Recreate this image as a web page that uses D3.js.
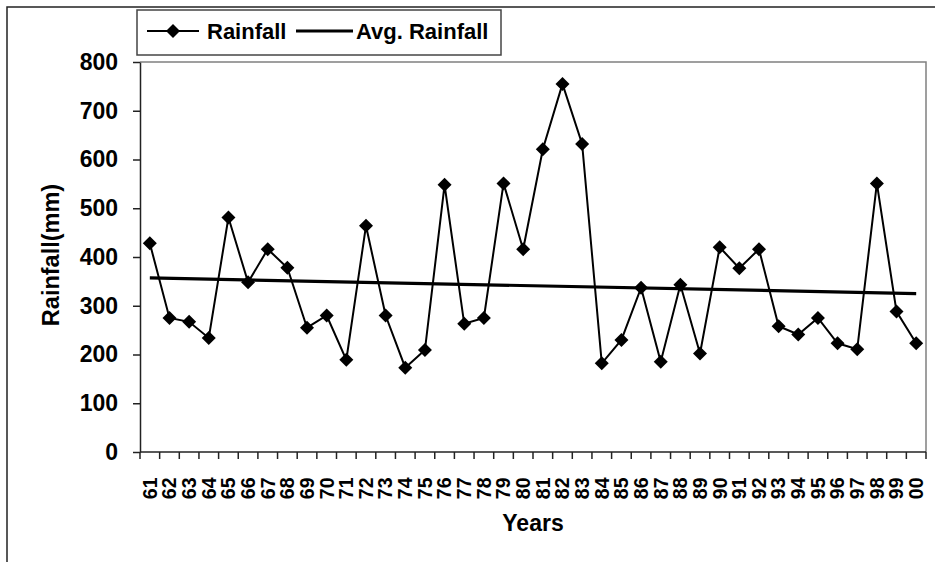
<!DOCTYPE html>
<html><head><meta charset="utf-8">
<script src="https://cdn.jsdelivr.net/npm/d3@7/dist/d3.min.js"></script>
<style>body{margin:0;background:#fff}svg{display:block;font-family:"Liberation Sans",Arial,sans-serif;font-weight:bold}</style>
</head><body><svg id="c" width="935" height="562"></svg>
<script>
const years = ["61","62","63","64","65","66","67","68","69","70","71","72","73","74","75","76","77","78","79","80","81","82","83","84","85","86","87","88","89","90","91","92","93","94","95","96","97","98","99","00"];
const rainfall = [428,275,267,234,481,348,416,378,255,280,189,464,280,173,209,548,263,275,551,416,621,755,632,182,230,337,185,343,202,420,377,416,258,241,275,223,211,551,288,223];
const avgYears = ["61","00"];
const avgRainfall = [357,325];
const yTicks = [0,100,200,300,400,500,600,700,800];

const svg = d3.select("#c");
const L=140,R=926,T=62,B=452;
const x = d3.scaleBand().domain(years).range([L,R]);
const y = d3.scaleLinear().domain([0,800]).range([B,T]);
const cx = d => x(d)+x.bandwidth()/2;

// outer frame
svg.append("path").attr("d","M7,562V7H935").attr("fill","none").attr("stroke","#222").attr("stroke-width",1.5);
// plot border top/right
svg.append("path").attr("d",`M${L},${T}H${R}V${B}`).attr("fill","none").attr("stroke","#808080").attr("stroke-width",1.5);

// y axis
const ya = svg.append("g").attr("transform",`translate(${L},0)`)
  .call(d3.axisLeft(y).tickValues(yTicks).tickSize(7).tickSizeOuter(0).tickPadding(15));
ya.select(".domain").attr("stroke","#222").attr("stroke-width",1.5);
ya.selectAll(".tick line").attr("stroke","#222").attr("stroke-width",1.5);
ya.selectAll("text").attr("font-size",23).attr("font-family","Liberation Sans, Arial").attr("font-weight","bold").attr("fill","#000");

// x axis: ticks at band boundaries
const xa = svg.append("g").attr("transform",`translate(0,${B})`);
xa.append("line").attr("x1",L).attr("x2",R).attr("stroke","#222").attr("stroke-width",1.5);
const bounds = years.map(d=>x(d)).concat([R]);
xa.selectAll("line.t").data(bounds).join("line").attr("class","t")
  .attr("x1",d=>d).attr("x2",d=>d).attr("y1",0).attr("y2",7).attr("stroke","#222").attr("stroke-width",1.5);
xa.selectAll("text").data(years).join("text")
  .attr("transform",d=>`translate(${cx(d)},25.5) rotate(-90)`)
  .attr("text-anchor","end").attr("dy","0.35em").attr("font-size",19.5).text(d=>d);

// titles
svg.append("text").attr("x",(L+R)/2).attr("y",531).attr("text-anchor","middle").attr("font-size",23).text("Years");
svg.append("text").attr("transform",`translate(59,255) rotate(-90)`).attr("text-anchor","middle").attr("font-size",23.5).text("Rainfall(mm)");

// avg line
svg.append("line").attr("x1",cx(avgYears[0])).attr("x2",cx(avgYears[1]))
  .attr("y1",y(avgRainfall[0])).attr("y2",y(avgRainfall[1])).attr("stroke","#000").attr("stroke-width",3.2);

// rainfall line
const line = d3.line().x((d,i)=>cx(years[i])).y(d=>y(d));
svg.append("path").attr("d",line(rainfall)).attr("fill","none").attr("stroke","#000").attr("stroke-width",2);
const dpath = "M0,-7L7,0L0,7L-7,0Z";
svg.selectAll("path.m").data(rainfall).join("path").attr("class","m")
  .attr("d",dpath).attr("transform",(d,i)=>`translate(${cx(years[i])},${y(d)})`).attr("fill","#000");

// legend
const lg = svg.append("g");
lg.append("rect").attr("x",137).attr("y",10).attr("width",364).attr("height",45).attr("fill","#fff").attr("stroke","#444").attr("stroke-width",1.5);
lg.append("line").attr("x1",147).attr("x2",199).attr("y1",31).attr("y2",31).attr("stroke","#000").attr("stroke-width",2);
lg.append("path").attr("d",dpath).attr("transform","translate(173,31)").attr("fill","#000");
lg.append("text").attr("x",207).attr("y",38.5).attr("font-size",22).text("Rainfall");
lg.append("line").attr("x1",296).attr("x2",353).attr("y1",31).attr("y2",31).attr("stroke","#000").attr("stroke-width",3.2);
lg.append("text").attr("x",356).attr("y",38.5).attr("font-size",22).text("Avg. Rainfall");
</script></body></html>
